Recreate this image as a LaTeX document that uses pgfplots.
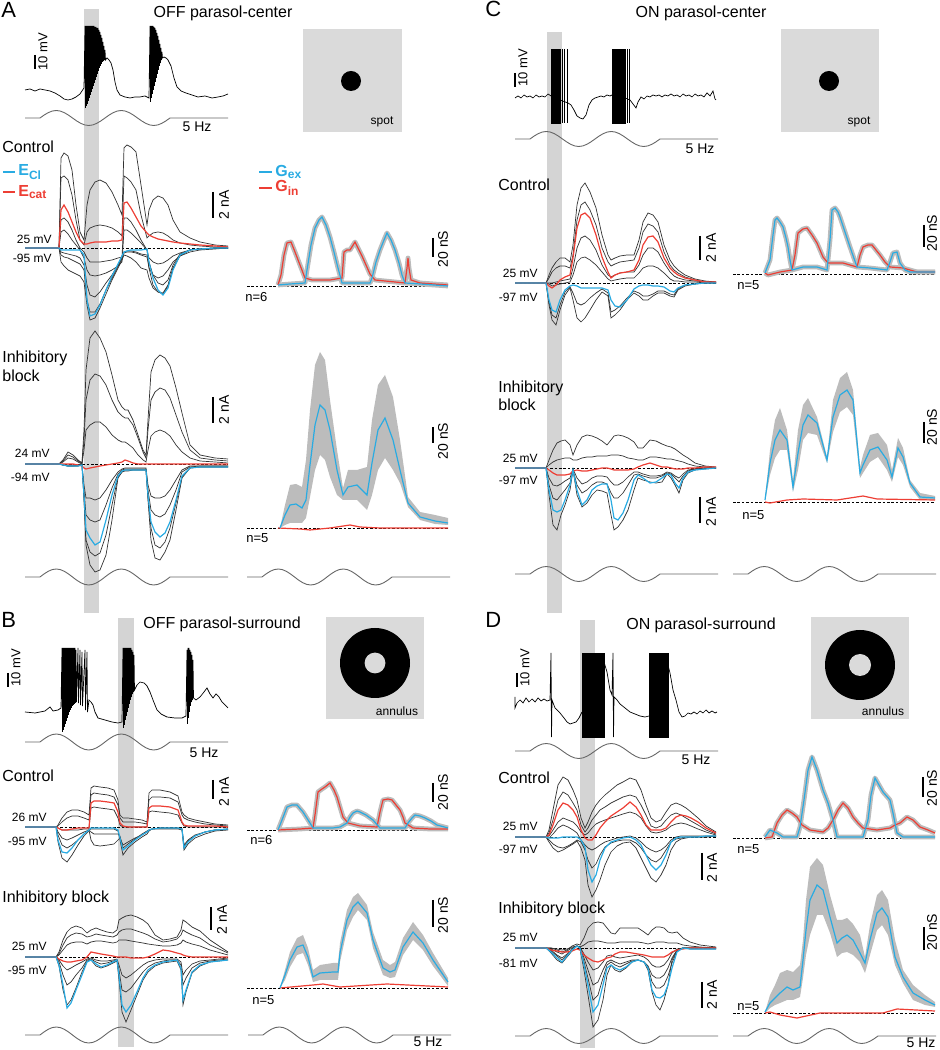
\documentclass[border=0pt]{standalone}
\usepackage{fontspec}
\setmainfont{Liberation Sans}
\usepackage{pgfplots}
\usepackage{pgfplotstable}
\pgfplotsset{compat=1.18}
\usepgfplotslibrary{fillbetween}

\definecolor{cblue}{RGB}{41,171,226}
\definecolor{cred}{RGB}{237,62,52}
\definecolor{barg}{RGB}{212,212,212}
\definecolor{icong}{RGB}{218,218,218}
\definecolor{bandg}{RGB}{188,188,188}

\tikzset{
  tr/.style={black!80, line width=0.35pt},
  rd/.style={cred, line width=0.6pt},
  bl/.style={cblue, line width=0.6pt},
  spk/.style={black, line width=0.35pt},
  stimline/.style={black!60, line width=0.45pt},
  bas/.style={black, line width=0.4pt, dash pattern=on 1.3pt off 0.9pt},
  gthick/.style={bandg, line width=2.4pt, line join=round},
}
% 1 px of the original figure = 0.5 pt; y is counted downwards in px
\newcommand\fs[1]{\fontsize{#1}{#1}\selectfont}

% stimulus: flat, two cycles at 5 Hz, flat (u = px from the trace start)
\pgfplotstableread{
u s
0 0
15 0
19.06 0.383
23.13 0.707
27.19 0.924
31.25 1
35.31 0.924
39.38 0.707
43.44 0.383
47.5 0
51.56 -0.383
55.63 -0.707
59.69 -0.924
63.75 -1
67.81 -0.924
71.88 -0.707
75.94 -0.383
80 0
84.06 0.383
88.13 0.707
92.19 0.924
96.25 1
100.31 0.924
104.38 0.707
108.44 0.383
112.5 0
116.56 -0.383
120.63 -0.707
124.69 -0.924
128.75 -1
132.81 -0.924
136.88 -0.707
140.94 -0.383
145 0
203 0
}\stimtab
\newcommand\stim[3]{\addplot[stimline] table[x expr=\thisrow{u}+#1, y expr=#2-#3*\thisrow{s}]{\stimtab};}

% ---------- A: OFF parasol-center ----------
\pgfplotstableread{
x t1 t2 t3 t4 t5 t6 t7 r b
25 248 248 248 248 248 248 248 248 248
59 248 248 248 248 248 248 248 248 248
61 158 178 220 232 262 255 252 210 250
64 153 176 218 230 266 257 253 205 250
68 156 180 222 234 270 258 254 212 250
72 170 195 230 240 272 260 255 222 250
76 205 220 240 245 274 262 256 232 250
80 232 240 248 250 276 264 258 240 250
84 240 245 252 258 282 270 265 244 255
87 205 232 258 270 305 300 285 244 300
90 190 228 262 275 320 312 295 243 316
95 182 226 262 276 318 312 297 242 314
100 180 225 262 275 308 304 292 242 305
106 183 226 261 273 294 290 283 242 290
112 192 228 260 270 280 278 275 241 276
118 205 232 258 266 268 266 265 241 264
122 215 236 257 262 260 258 258 240 256
124 148 176 218 230 255 253 252 203 252
127 145 178 218 230 256 252 251 202 251
131 147 182 222 233 258 252 251 208 250
136 152 190 230 238 262 253 252 217 250
141 185 215 240 243 268 255 254 226 250
147 225 238 250 250 270 257 255 233 249
149 210 236 258 268 278 268 262 235 262
153 200 233 262 275 288 285 275 237 278
158 196 232 264 278 292 292 283 239 290
163 198 233 263 276 294 293 285 240 295
168 205 236 260 270 286 285 280 241 288
173 220 240 256 262 268 268 265 242 270
180 232 243 253 256 255 256 254 243 255
190 238 245 250 252 250 250 250 244 250
200 242 246 249 250 249 249 249 245 249
215 245 247 248 249 248 248 248 246 248
228 246 247 248 248 248 248 248 247 248
}\Acur
\pgfplotstableread{
x t1 t2 t3 r b t4 t5 t6 t7
25 464 464 464 464 464 464 464 464 464
59 464 464 464 464 464 464 464 464 464
63 460 461 462 464 465 465 465 465 465
68 452 455 458 464 466 466 466 465 466
73 455 457 459 464 466 466 466 465 466
78 460 461 462 465 466 465 466 465 466
82 463 463 464 466 465 464 465 465 465
84 430 440 450 468 495 500 490 485 498
86 370 400 430 469 530 545 515 498 540
90 338 380 425 468 538 565 520 498 552
95 331 374 422 467 545 572 522 500 556
100 338 376 422 466 542 570 520 498 553
106 352 385 427 465 520 555 505 490 535
112 375 400 435 464 495 520 488 480 505
118 400 412 440 463 476 478 474 472 477
122 407 416 442 462 471 472 470 469 472
125 410 418 442 460 470 471 469 468 470
128 410 418 444 461 470 471 469 468 470
133 420 425 448 463 470 470 469 468 470
138 435 438 455 464 470 470 469 468 470
143 450 452 460 464 470 470 469 468 470
146 455 458 462 464 470 470 469 468 470
148 420 430 450 464 495 500 490 485 498
151 372 400 436 464 522 540 510 496 528
155 360 392 432 464 532 558 515 498 545
160 355 388 430 464 537 560 517 498 548
165 358 390 432 464 533 552 514 496 542
170 366 398 436 464 522 540 505 490 528
176 388 415 445 464 500 510 490 480 503
182 413 432 452 464 476 478 472 470 477
190 445 450 458 464 468 468 467 466 468
200 455 458 461 464 467 467 466 466 467
215 458 460 462 464 467 467 466 466 467
228 459 461 463 464 467 467 466 466 467
}\Ainh
\pgfplotstableread{
x y
278 285
290 284
305 283
307 270
311 245
315 228
319 220
322 217
326 225
330 237
334 252
338 268
342 283
370 283
372 278
376 262
380 250
384 240
387 233
391 240
395 250
399 263
402 275
405 283
420 284
448 286
}\Agb
\pgfplotstableread{
x y
278 285
281 275
284 255
287 243
291 242
295 252
300 265
305 278
312 280
330 280
342 278
344 252
347 250
350 250
355 242
358 248
362 256
366 265
370 274
375 280
395 282
405 283
407 268
408 258
409 268
411 280
420 283
448 285
}\Agr
\pgfplotstableread{
x b hi lo
280 528 528 528
285 515 505 525
290 505 485 523
296 504 484 523
302 508 487 523
306 500 460 518
310 465 410 497
315 425 365 470
320 405 352 455
325 410 360 460
330 430 400 477
337 470 450 495
343 495 488 500
348 487 470 500
357 485 470 500
367 495 467 510
372 463 420 495
378 430 385 470
385 418 375 458
393 440 397 470
400 470 440 483
408 503 497 507
420 517 512 520
435 521 515 524
448 523 518 525
}\Aig

% ---------- B: OFF parasol-surround ----------
\pgfplotstableread{
x t1 t2 r t3 b t4 t5 t6
25 827 827 827 827 827 827 827 827
56 827 827 827 827 827 827 827 827
58 825 826 828 828 840 842 832 835
62 818 822 830 830 852 858 838 845
67 812 818 830 830 853 862 840 848
72 810 816 829 830 848 855 838 845
78 810 816 828 830 840 845 835 840
84 812 818 828 829 834 836 832 834
89 815 820 828 829 830 831 830 830
91 788 795 803 808 828 829 840 832
94 786 793 801 807 828 829 845 834
100 787 794 801 808 828 829 846 834
108 788 795 802 809 828 829 845 834
114 790 797 803 810 828 829 844 834
118 800 805 812 818 830 831 840 834
120 818 815 823 825 838 840 838 836
123 822 818 826 827 850 855 845 848
128 822 818 827 827 846 848 842 844
135 822 819 827 827 840 842 838 839
142 823 820 827 827 835 837 835 834
147 824 822 827 827 832 834 832 831
149 793 800 808 812 830 831 830 830
152 790 797 806 811 829 829 829 829
160 790 797 806 812 828 829 828 828
170 792 798 807 813 828 829 828 828
178 796 802 810 815 828 829 828 828
182 812 815 822 823 829 830 829 829
184 815 818 825 826 848 850 845 846
188 818 820 826 827 842 844 840 841
195 820 822 826 827 836 838 835 836
205 822 824 826 827 832 834 832 832
215 824 825 826 827 830 831 830 830
228 825 826 827 827 829 830 829 829
}\Bcur
\pgfplotstableread{
x t1 t2 t3 r b t4 t5 t6
25 957 957 957 957 957 957 957 957
56 957 957 957 957 957 957 957 957
59 952 954 955 959 965 966 962 960
63 940 945 950 961 985 990 975 966
67 932 938 945 962 1008 1005 985 970
71 928 935 943 962 1003 1000 982 968
76 926 933 942 961 990 988 975 965
82 928 934 942 960 975 972 968 962
87 933 937 944 957 962 961 960 959
91 930 936 942 952 960 960 959 958
96 928 934 941 953 964 966 962 960
101 930 935 941 954 967 968 964 961
107 932 936 942 955 965 966 963 961
113 933 937 943 956 962 963 961 960
117 930 935 942 957 960 961 960 959
119 920 932 940 957 975 980 970 965
122 918 930 940 957 1005 1012 990 975
126 916 929 940 957 1012 1022 992 978
131 915 929 941 958 1005 1010 988 975
137 917 931 942 958 992 995 980 970
143 920 933 943 958 978 980 972 965
148 924 935 944 957 970 972 967 962
155 935 939 945 954 965 966 963 960
163 940 942 946 950 962 963 961 959
170 939 941 946 951 961 962 960 959
177 937 939 945 953 960 961 960 959
181 930 935 943 954 968 970 965 962
183 920 930 940 955 1000 1005 985 975
186 922 932 942 956 990 992 978 970
192 927 935 944 957 972 973 968 964
200 931 938 946 957 965 966 963 961
210 940 945 950 957 962 962 961 960
228 952 953 955 957 960 960 959 958
}\Binh
\pgfplotstableread{
x y
278 830
282 820
287 807
292 805
297 805
303 812
310 823
313 828
333 828
340 827
347 823
350 817
353 813
357 811
360 812
366 815
373 820
380 828
405 828
408 823
412 818
415 815
420 816
425 818
431 821
437 825
448 828
}\Bgb
\pgfplotstableread{
x y
278 830
300 829
313 828
315 815
318 792
322 789
325 787
330 783
334 790
337 797
340 807
343 817
348 823
360 826
377 827
380 812
383 800
388 799
392 800
396 805
400 810
403 817
405 823
413 828
430 829
448 829
}\Bgr
\pgfplotstableread{
x b hi lo
280 988 988 988
285 975 970 980
290 960 952 967
297 947 938 955
303 945 935 953
308 957 948 965
313 977 970 982
320 973 965 980
333 972 963 980
338 972 963 980
340 953 943 962
347 920 910 930
353 907 897 917
358 902 893 910
367 913 905 920
373 940 932 948
383 968 960 975
390 972 965 978
395 970 962 977
403 947 938 955
413 932 922 940
423 943 935 950
433 960 953 966
448 982 978 986
}\Big

% ---------- C: ON parasol-center ----------
\pgfplotstableread{
x t1 t2 r t3 t4 b t5 t6
515 283 283 283 283 283 283 283 283
546 283 283 283 283 283 283 283 283
549 275 278 286 283 284 300 305 302
552 268 272 288 283 286 310 320 315
556 262 268 285 282 285 312 325 318
560 258 266 280 281 284 300 310 305
565 258 266 277 280 283 290 295 292
570 262 268 275 279 282 286 288 287
573 245 255 258 268 275 285 300 293
577 205 220 228 248 262 286 318 303
581 188 205 215 238 258 288 322 305
585 183 202 213 236 257 288 318 303
590 192 210 218 240 260 288 310 298
596 208 225 235 250 265 288 300 293
602 235 248 257 265 272 288 292 289
608 255 262 272 275 279 290 296 293
611 260 266 278 277 281 300 318 312
615 258 264 275 275 280 306 315 310
620 256 262 273 273 279 307 310 306
627 255 261 272 272 278 300 300 298
634 255 260 270 272 278 289 293 291
639 240 248 260 265 273 286 296 293
643 222 232 245 255 268 285 300 296
648 213 224 237 248 266 285 300 296
653 215 226 236 248 266 286 296 294
658 222 232 242 252 268 286 293 291
664 245 252 258 263 273 287 293 291
670 260 265 268 272 279 291 296 294
674 266 270 272 276 281 292 297 295
678 270 273 275 278 281 288 290 289
685 275 277 278 280 282 285 286 285
695 279 280 280 281 282 284 284 284
705 281 282 282 282 283 283 283 283
716 282 282 282 283 283 283 283 283
}\Ccur
\pgfplotstableread{
x t1 t2 r b t4 t5 t6
515 468 468 468 468 468 468 468
546 468 468 468 468 468 468 468
549 460 465 470 490 495 485 478
553 450 462 473 510 525 498 485
557 443 460 475 512 530 500 486
561 441 459 475 510 515 495 484
565 440 458 475 500 505 490 481
570 445 458 474 485 490 483 478
573 455 460 471 470 470 470 469
577 445 460 470 490 495 485 478
582 437 458 471 505 507 493 484
587 435 457 471 500 503 490 482
592 436 457 470 490 495 485 478
597 438 456 469 486 490 482 476
602 441 456 468 484 491 482 476
607 445 456 468 484 493 484 477
611 440 455 469 500 515 493 482
614 436 455 470 518 530 498 485
618 435 455 470 520 527 498 485
623 436 456 470 513 520 493 482
628 438 458 470 500 510 485 477
634 442 459 469 480 490 475 472
638 448 460 467 475 478 474 472
643 448 460 465 478 480 476 474
650 440 457 463 483 482 478 476
656 441 457 465 482 483 478 476
662 444 458 467 478 482 476 475
667 446 459 467 474 474 473 472
671 447 459 468 475 478 474 473
675 449 460 469 483 485 478 476
679 452 461 469 488 493 482 478
683 455 462 469 478 480 476 474
688 458 464 468 472 473 471 470
695 463 466 468 470 470 469 469
705 466 467 467 469 469 468 468
716 467 468 467 468 468 468 468
}\Cinh
\pgfplotstableread{
x y
765 273
770 260
773 235
775 220
777 218
780 222
783 227
786 238
788 247
790 260
792 270
803 267
817 267
827 270
830 240
832 210
835 208
838 212
840 217
845 232
850 247
857 267
870 268
887 270
890 262
893 253
897 252
900 263
905 270
910 272
935 272
}\Cgb
\pgfplotstableread{
x y
765 273
768 275
780 272
792 270
795 255
798 233
803 229
807 228
812 235
817 243
823 257
828 263
843 263
857 267
860 255
863 247
868 245
872 245
876 250
880 255
885 262
890 267
903 268
917 272
935 272
}\Cgr
\pgfplotstableread{
x b hi lo
765 500 500 502
770 463 450 475
775 440 420 458
780 430 408 450
787 440 430 450
793 487 480 492
798 453 430 470
803 425 405 440
808 415 398 433
817 423 417 435
827 460 457 463
833 417 400 432
840 395 378 412
847 390 372 407
853 400 390 415
860 473 467 478
863 465 455 473
870 450 435 462
878 447 433 457
887 460 445 470
892 477 470 482
898 448 438 457
903 457 448 465
910 483 480 487
920 497 493 500
935 498 496 500
}\Cig

% ---------- D: ON parasol-surround ----------
\pgfplotstableread{
x t1 t2 r t3 t6 b t4 t5
515 837 837 837 837 837 837 837 837
546 837 837 837 837 837 837 837 837
549 830 833 835 836 838 838 840 842
553 810 820 825 830 834 838 844 848
558 785 800 810 822 828 838 847 852
563 777 792 803 818 825 837 848 850
568 780 795 805 820 827 837 846 847
573 790 803 810 822 830 837 843 844
577 800 810 817 826 833 837 840 841
581 818 825 830 832 840 840 842 848
585 828 832 838 835 845 847 850 860
588 822 828 840 833 848 870 860 885
592 812 820 840 828 850 882 868 897
596 805 815 835 824 848 875 864 890
600 800 810 828 822 845 860 855 880
605 795 807 822 820 842 848 847 865
611 790 803 816 818 840 842 843 852
617 785 800 812 816 838 840 841 846
623 782 797 808 814 837 838 840 843
630 778 795 802 812 836 837 840 842
636 780 797 807 814 838 840 843 848
641 790 805 815 818 842 845 848 858
646 805 815 825 826 847 855 855 868
651 818 826 830 832 850 865 860 878
656 822 828 830 833 852 870 862 882
661 820 826 830 832 850 865 858 875
666 812 820 828 830 846 855 850 865
671 805 815 822 826 840 842 842 850
676 803 813 817 824 837 838 839 842
681 805 815 815 823 836 837 838 839
686 808 818 816 824 836 837 837 838
691 812 821 818 826 836 837 837 837
698 818 825 822 829 836 837 837 837
706 826 830 828 832 836 836 837 837
716 832 834 833 835 836 836 836 836
}\Dcur
\pgfplotstableread{
x t1 t2 r b t3 t4 t5 t6
515 948 948 948 948 948 948 948 948
546 948 948 948 948 948 948 948 948
551 948 948 950 952 950 951 953 949
557 950 949 951 958 955 956 960 952
562 952 950 952 962 958 960 963 954
567 950 949 952 956 954 955 957 951
572 946 947 951 950 949 950 951 948
577 944 946 949 946 946 946 946 946
580 945 947 950 948 947 948 949 947
584 938 945 955 965 958 962 970 954
588 928 942 958 985 970 978 995 962
593 923 941 961 1012 985 1000 1027 970
598 922 941 962 1005 982 995 1020 968
603 923 942 960 985 970 978 1000 962
607 928 943 958 968 962 965 975 956
611 933 943 957 965 960 962 965 955
615 934 943 954 968 962 965 970 957
620 928 942 952 970 964 967 972 958
626 928 942 952 967 962 964 968 957
632 928 942 953 962 960 961 962 956
638 928 942 954 960 960 960 960 955
644 932 943 955 962 962 962 962 957
648 935 944 956 968 966 967 970 960
652 930 943 957 990 975 982 992 965
656 927 942 957 997 978 988 1005 967
660 927 942 957 998 978 988 1010 967
664 928 942 957 995 975 985 1000 965
668 932 943 955 985 968 976 985 960
672 933 943 952 968 958 963 960 953
677 932 943 950 952 950 951 950 949
683 938 945 949 948 948 948 948 948
690 942 946 948 949 948 948 949 948
700 945 947 948 949 948 948 949 948
716 947 948 948 949 948 948 949 948
}\Dinh
\pgfplotstableread{
x y
765 837
770 830
777 833
783 837
797 837
800 827
804 800
808 770
812 757
817 770
823 790
828 803
833 820
837 837
863 837
868 820
871 795
875 778
879 785
883 792
890 800
893 813
897 833
903 837
935 837
}\Dgb
\pgfplotstableread{
x y
765 838
772 837
777 823
782 815
787 810
792 813
797 817
802 825
810 830
823 832
828 828
833 820
838 810
843 803
848 808
853 817
858 823
863 828
877 830
890 828
895 825
900 823
907 817
913 820
920 827
928 830
935 833
}\Dgr
\pgfplotstableread{
x b hi lo
765 1012 1012 1013
770 1003 995 1008
775 998 985 1005
780 993 973 1003
787 987 970 1000
793 990 972 1000
800 987 965 997
803 960 940 978
806 930 900 955
810 900 867 935
817 885 858 915
823 890 865 915
830 917 895 933
837 943 920 957
842 938 920 953
847 935 918 952
853 940 924 955
860 953 935 962
865 963 957 973
870 940 925 955
877 913 895 930
882 908 890 925
888 917 900 935
895 957 940 965
903 977 970 983
913 993 985 1000
925 1000 995 1005
935 1005 1002 1007
}\Dig

% helpers
\newcommand\sbar[6]{\draw[line width=0.55pt] (#1,#2) -- (#1,#3);
  \node[rotate=90, font=\fs{7}, inner sep=0] at (#4,#5) {#6};}
\newcommand\mvl[3]{\node[anchor=east, font=\fs{6}, inner sep=0] at (#1,#2) {#3};}
\newcommand\lab[3]{\node[anchor=base west, font=\fs{8}, inner sep=0] at (#1,#2) {#3};}
\newcommand\nlab[3]{\node[anchor=west, font=\fs{6.5}, inner sep=0] at (#1,#2) {#3};}
\newcommand\hz[2]{\node[font=\fs{7}, inner sep=0] at (#1,#2) {5 Hz};}

\begin{document}
\begin{tikzpicture}
\begin{axis}[width=469.5pt, height=525pt, scale only axis,
  xmin=0, xmax=939, ymin=0, ymax=1050, y dir=reverse,
  hide axis, clip=false]
\path (0,0) rectangle (939,1050);

% gray time bars
\fill[barg] (84,9) rectangle (99,613);
\fill[barg] (547,32) rectangle (562,613);
\fill[barg] (118,618) rectangle (134,1047);
\fill[barg] (580,620) rectangle (595,1048);

% panel letters and titles
\node[anchor=base west, font=\fs{11}, inner sep=0] at (1,18) {A};
\node[anchor=base west, font=\fs{11}, inner sep=0] at (1,628) {B};
\node[anchor=base west, font=\fs{11}, inner sep=0] at (485,17) {C};
\node[anchor=base west, font=\fs{11}, inner sep=0] at (485,628) {D};
\node[anchor=base, font=\fs{8}, inner sep=0] at (223,18) {OFF parasol-center};
\node[anchor=base, font=\fs{8}, inner sep=0] at (222,629) {OFF parasol-surround};
\node[anchor=base, font=\fs{8}, inner sep=0] at (701,18) {ON parasol-center};
\node[anchor=base, font=\fs{8}, inner sep=0] at (701,630) {ON parasol-surround};

% stimulus icons
\fill[icong] (303,29) rectangle (402,132);
\fill[black] (351,81) circle[radius=5pt];
\node[font=\fs{6}, inner sep=0] at (382,122) {spot};
\fill[icong] (781,29) rectangle (879,132);
\fill[black] (829,81) circle[radius=5pt];
\node[font=\fs{6}, inner sep=0] at (859,122) {spot};
\fill[icong] (326,617) rectangle (424,719);
\fill[black] (375,663) circle[radius=17.5pt];
\fill[icong] (375,663) circle[radius=5.2pt];
\node[font=\fs{6}, inner sep=0] at (397,711) {annulus};
\fill[icong] (811,617) rectangle (909,719);
\fill[black] (860,665) circle[radius=17.5pt];
\fill[icong] (860,665) circle[radius=5.5pt];
\node[font=\fs{6}, inner sep=0] at (883,711) {annulus};

% ===== A =====
\addplot[spk] coordinates {(25,90)(30,89)(35,91)(40,89)(45,90)(50,91)(55,93)(60,96)(64,99)(68,100)(72,99)(76,97)(80,94)(84,88)
(85,26)(85.5,108)(86,26)(86.5,106)(87,26)(87.5,104)(88,26)(88.5,101)(89,26)(89.5,98)(90,26)(90.5,95)(91,26)(91.5,92)(92,26)(92.5,89)(93,26)(93.5,86)(94,26)(94.5,83)(95,27)(95.5,80)(96,27)(96.5,77)(97,28)(97.5,74)(98,28)(98.5,71)(99,30)(99.5,68)(100,32)(100.5,66)(101,35)(101.5,64)(102,38)(102.5,62)(103,42)(103.5,61)(104,46)(104.5,60)(105,50)(105.5,60)
(107,58)(109,60)(111,63)(113,70)(115,82)(117,90)(120,95)(125,97)(130,98)(135,97)(140,97)(145,96)(149,98)
(150,26)(150.5,102)(151,26)(151.5,98)(152,26)(152.5,94)(153,26)(153.5,90)(154,27)(154.5,86)(155,28)(155.5,82)(156,30)(156.5,78)(157,33)(157.5,74)(158,36)(158.5,70)(159,40)(159.5,66)(160,44)(160.5,63)(161,48)(161.5,60)(162,52)(162.5,58)
(164,57)(166,58)(168,60)(171,66)(174,78)(177,87)(181,91)(186,93)(192,95)(198,97)(205,96)(212,98)(218,97)(223,96)(228,94)};
\draw[line width=0.55pt] (35,55) -- (35,69);
\node[rotate=90, font=\fs{6.5}, inner sep=0] at (43,52) {10 mV};
\stim{25}{118}{7.5}
\hz{197}{127}

\lab{2}{153}{Control}
\addplot[bl] coordinates {(3,172)(15,172)};
\node[anchor=west, font=\fs{8}\bfseries, text=cblue, inner sep=0] at (18,172) {E\textsubscript{Cl}};
\addplot[rd] coordinates {(3,192)(15,192)};
\node[anchor=west, font=\fs{8}\bfseries, text=cred, inner sep=0] at (18,192) {E\textsubscript{cat}};
\addplot[bl] coordinates {(259,172)(272,172)};
\node[anchor=west, font=\fs{8}\bfseries, text=cblue, inner sep=0] at (275,172) {G\textsubscript{ex}};
\addplot[rd] coordinates {(259,188)(272,188)};
\node[anchor=west, font=\fs{8}\bfseries, text=cred, inner sep=0] at (275,188) {G\textsubscript{in}};

\draw[bas] (25,248) -- (228,248);
\pgfplotsinvokeforeach{t1,t2,t3,t4,t5,t6,t7}{\addplot[tr] table[x=x,y=#1]{\Acur};}
\addplot[rd] table[x=x,y=r]{\Acur};
\addplot[bl] table[x=x,y=b]{\Acur};
\mvl{52}{239}{25 mV}
\mvl{52}{258}{-95 mV}
\sbar{213}{192}{218}{224}{205}{2 nA}

\draw[bas] (247,286) -- (448,286);
\addplot[gthick] table[x=x,y=y]{\Agr};
\addplot[gthick] table[x=x,y=y]{\Agb};
\addplot[rd] table[x=x,y=y]{\Agr};
\addplot[bl] table[x=x,y=y]{\Agb};
\nlab{245}{297}{n=6}
\sbar{433}{238}{257}{443}{249}{20 nS}

\lab{2}{363}{Inhibitory}
\lab{2}{382}{block}
\draw[bas] (25,464) -- (228,464);
\pgfplotsinvokeforeach{t1,t2,t3,t4,t5,t6,t7}{\addplot[tr] table[x=x,y=#1]{\Ainh};}
\addplot[rd] table[x=x,y=r]{\Ainh};
\addplot[bl] table[x=x,y=b]{\Ainh};
\mvl{50}{453}{24 mV}
\mvl{50}{477}{-94 mV}
\sbar{213}{397}{423}{224}{410}{2 nA}

\draw[bas] (247,528) -- (448,528);
\addplot[name path=ahi, draw=none] table[x=x,y=hi]{\Aig};
\addplot[name path=alo, draw=none] table[x=x,y=lo]{\Aig};
\addplot[bandg] fill between[of=ahi and alo];
\addplot[rd] coordinates {(278,528)(300,529)(310,530)(330,528)(350,525)(360,527)(380,528)(448,528)};
\addplot[bl] table[x=x,y=b]{\Aig};
\nlab{246}{538}{n=5}
\sbar{433}{427}{443}{443}{441}{20 nS}
\stim{25}{577}{8}
\stim{247}{577}{8}

% ===== B =====
\addplot[spk] coordinates {(25,712)(35,713)(45,711)(50,707)(53,711)(58,710)(61,708)
(62,648)(62.5,732)(63,648)(63.5,730)(64,648)(64.5,727)(65,648)(65.5,724)(66,648)(66.5,721)(67,648)(67.5,718)(68,648)(68.5,715)(69,648)(69.5,712)(70,648)(70.5,710)(71,648)(71.5,708)(72,648)(72.5,706)(73,648)(73.5,705)(74,648)(74.5,704)(75,648)(75.5,703)(76,650)(76.5,702)(78,648)(78.5,703)(80,650)(80.5,705)(82,652)(82.5,706)(85,650)(85.5,710)(87,652)(87.5,712)
(89,700)(91,702)(93,705)(95,712)(98,718)(105,720)(112,722)(118,723)(122,722)
(123,648)(123.5,728)(124,648)(124.5,725)(125,648)(125.5,720)(126,648)(126.5,716)(127,648)(127.5,712)(128,648)(128.5,708)(129,648)(129.5,704)(130,648)(130.5,700)(131,648)(131.5,697)(132,650)(132.5,694)(133,652)(133.5,692)(134,655)(134.5,690)
(137,685)(140,682)(144,683)(147,686)(150,692)(153,700)(157,710)(161,714)(167,717)(175,718)(182,718)(186,716)
(187,650)(187.5,724)(188,648)(188.5,718)(189,648)(189.5,712)(190,650)(190.5,706)(191,652)(191.5,702)(192,655)(192.5,700)(193,660)(193.5,698)
(196,700)(200,697)(204,692)(207,688)(210,694)(213,698)(216,694)(219,697)(222,702)(225,705)(228,708)};
\draw[line width=0.55pt] (8,673) -- (8,687);
\node[rotate=90, font=\fs{6.5}, inner sep=0] at (16,668) {10 mV};
\stim{25}{742}{8}
\hz{204}{753}

\lab{2}{782}{Control}
\draw[bas] (25,827) -- (228,827);
\pgfplotsinvokeforeach{t1,t2,t3,t4,t5,t6}{\addplot[tr] table[x=x,y=#1]{\Bcur};}
\addplot[rd] table[x=x,y=r]{\Bcur};
\addplot[bl] table[x=x,y=b]{\Bcur};
\mvl{47}{817}{26 mV}
\mvl{47}{841}{-95 mV}
\sbar{213}{780}{799}{224}{792}{2 nA}

\draw[bas] (247,830) -- (448,830);
\addplot[gthick] table[x=x,y=y]{\Bgr};
\addplot[gthick] table[x=x,y=y]{\Bgb};
\addplot[rd] table[x=x,y=y]{\Bgr};
\addplot[bl] table[x=x,y=y]{\Bgb};
\nlab{250}{840}{n=6}
\sbar{433}{783}{802}{443}{792}{20 nS}

\lab{2}{903}{Inhibitory block}
\draw[bas] (25,957) -- (228,957);
\pgfplotsinvokeforeach{t1,t2,t3,t4,t5,t6}{\addplot[tr] table[x=x,y=#1]{\Binh};}
\addplot[rd] table[x=x,y=r]{\Binh};
\addplot[bl] table[x=x,y=b]{\Binh};
\mvl{47}{946}{25 mV}
\mvl{47}{970}{-95 mV}
\sbar{211}{907}{930}{222}{920}{2 nA}

\draw[bas] (247,988) -- (448,988);
\addplot[name path=bhi, draw=none] table[x=x,y=hi]{\Big};
\addplot[name path=blo, draw=none] table[x=x,y=lo]{\Big};
\addplot[bandg] fill between[of=bhi and blo];
\addplot[rd] coordinates {(280,988)(313,985)(323,984)(340,987)(387,984)(448,987)};
\addplot[bl] table[x=x,y=b]{\Big};
\nlab{252}{1000}{n=5}
\sbar{433}{900}{927}{443}{915}{20 nS}
\stim{25}{1035}{8}
\stim{248}{1035}{8}
\hz{428}{1042}

% ===== C =====
\addplot[spk] coordinates {(515,98)(518,96)(521,98)(524,95)(527,97)(530,96)(533,98)(536,95)(539,97)(542,96)(545,97)(548,94)(551,96)};
\addplot[fill=black, draw=black, line width=0.3pt] coordinates {(551,49)(560,49)(560,123)(551,123)} -- cycle;
\addplot[spk] coordinates {(562,49)(562,123)};
\addplot[spk] coordinates {(564,49)(564,123)};
\addplot[spk] coordinates {(567,49)(567,123)};
\addplot[spk] coordinates {(560,100)(568,103)(571,105)(574,110)(577,116)(580,118)(583,119)(586,115)(589,105)(592,100)(595,98)(598,97)(601,96)(604,97)(607,95)(610,96)(612,95)};
\addplot[fill=black, draw=black, line width=0.3pt] coordinates {(612,49)(625,49)(625,123)(612,123)} -- cycle;
\addplot[spk] coordinates {(627,49)(627,123)};
\addplot[spk] coordinates {(629,49)(629,123)};
\addplot[spk] coordinates {(625,98)(630,100)(633,104)(636,108)(638,102)(641,97)(644,99)(647,96)(650,97)(653,95)(656,96)(659,95)(662,97)(665,95)(668,96)(671,94)(674,96)(677,95)(680,97)(683,94)(686,96)(689,95)(692,97)(695,94)(698,96)(701,95)(704,97)(707,93)(710,96)(713,91)(715,99)(716,100)};
\draw[line width=0.55pt] (515,73) -- (515,87);
\node[rotate=90, font=\fs{6.5}, inner sep=0] at (523,68) {10 mV};
\stim{515}{139}{7.5}
\hz{700}{149}

\lab{498}{191}{Control}
\draw[bas] (515,283) -- (716,283);
\pgfplotsinvokeforeach{t1,t2,t3,t4,t5,t6}{\addplot[tr] table[x=x,y=#1]{\Ccur};}
\addplot[rd] table[x=x,y=r]{\Ccur};
\addplot[bl] table[x=x,y=b]{\Ccur};
\mvl{538}{273}{25 mV}
\mvl{538}{297}{-97 mV}
\sbar{700}{236}{260}{711}{248}{2 nA}

\draw[bas] (733,274) -- (935,274);
\addplot[gthick] table[x=x,y=y]{\Cgr};
\addplot[gthick] table[x=x,y=y]{\Cgb};
\addplot[rd] table[x=x,y=y]{\Cgr};
\addplot[bl] table[x=x,y=y]{\Cgb};
\nlab{737}{285}{n=5}
\sbar{924}{225}{247}{932}{233}{20 nS}

\lab{498}{393}{Inhibitory}
\lab{498}{411}{block}
\draw[bas] (515,468) -- (716,468);
\pgfplotsinvokeforeach{t1,t2,t4,t5,t6}{\addplot[tr] table[x=x,y=#1]{\Cinh};}
\addplot[rd] table[x=x,y=r]{\Cinh};
\addplot[bl] table[x=x,y=b]{\Cinh};
\mvl{538}{458}{25 mV}
\mvl{538}{480}{-97 mV}
\sbar{700}{497}{523}{711}{512}{2 nA}

\draw[bas] (733,502) -- (935,502);
\addplot[name path=chi, draw=none] table[x=x,y=hi]{\Cig};
\addplot[name path=clo, draw=none] table[x=x,y=lo]{\Cig};
\addplot[bandg] fill between[of=chi and clo];
\addplot[rd] coordinates {(765,502)(770,503)(787,500)(803,499)(837,500)(863,496)(877,499)(935,500)};
\addplot[bl] table[x=x,y=b]{\Cig};
\nlab{742}{515}{n=5}
\sbar{924}{422}{443}{932}{427}{20 nS}
\stim{515}{574}{7.5}
\stim{733}{574}{7.5}

% ===== D =====
\addplot[spk] coordinates {(515,697)(515,708)(517,703)(520,700)(523,703)(526,698)(529,702)(532,699)(535,702)(538,698)(541,701)(544,699)(547,701)(550,700)(551,653)(551.5,737)(552,700)
(555,708)(560,713)(564,718)(567,722)(570,724)(573,723)(576,722)(579,718)(582,712)};
\addplot[fill=black, draw=black, line width=0.3pt] coordinates {(582,653)(604,653)(604,737)(582,737)} -- cycle;
\addplot[spk] coordinates {(604,662)(607,672)(610,690)(612,695)(613,653)(613.5,737)(614,697)(617,700)(620,704)(625,708)(630,712)(635,714)(640,716)(645,717)(649,716)};
\addplot[fill=black, draw=black, line width=0.3pt] coordinates {(649,653)(668,653)(668,737)(649,737)} -- cycle;
\addplot[spk] coordinates {(668,665)(670,673)(673,690)(676,700)(679,712)(682,717)(685,716)(688,713)(691,714)(694,712)(697,714)(700,711)(703,713)(706,710)(709,713)(712,711)(715,713)(717,712)};
\draw[line width=0.55pt] (517,673) -- (517,687);
\node[rotate=90, font=\fs{6.5}, inner sep=0] at (525,668) {10 mV};
\stim{515}{751}{7.5}
\hz{696}{760}

\lab{498}{784}{Control}
\draw[bas] (515,837) -- (716,837);
\pgfplotsinvokeforeach{t1,t2,t3,t6,t4,t5}{\addplot[tr] table[x=x,y=#1]{\Dcur};}
\addplot[rd] table[x=x,y=r]{\Dcur};
\addplot[bl] table[x=x,y=b]{\Dcur};
\mvl{538}{826}{25 mV}
\mvl{538}{849}{-97 mV}
\sbar{702}{853}{880}{712}{868}{2 nA}

\draw[bas] (733,838) -- (935,838);
\addplot[gthick] table[x=x,y=y]{\Dgr};
\addplot[gthick] table[x=x,y=y]{\Dgb};
\addplot[rd] table[x=x,y=y]{\Dgr};
\addplot[bl] table[x=x,y=y]{\Dgb};
\nlab{737}{849}{n=5}
\sbar{923}{777}{797}{932}{788}{20 nS}

\lab{498}{914}{Inhibitory block}
\draw[bas] (515,948) -- (716,948);
\pgfplotsinvokeforeach{t1,t2,t3,t4,t5,t6}{\addplot[tr] table[x=x,y=#1]{\Dinh};}
\addplot[rd] table[x=x,y=r]{\Dinh};
\addplot[bl] table[x=x,y=b]{\Dinh};
\mvl{538}{937}{25 mV}
\mvl{538}{963}{-81 mV}
\sbar{702}{982}{1008}{712}{995}{2 nA}

\draw[bas] (733,1013) -- (935,1013);
\addplot[name path=dhi, draw=none] table[x=x,y=hi]{\Dig};
\addplot[name path=dlo, draw=none] table[x=x,y=lo]{\Dig};
\addplot[bandg] fill between[of=dhi and dlo];
\addplot[rd] coordinates {(765,1013)(770,1012)(780,1015)(797,1018)(820,1013)(853,1013)(883,1013)(897,1009)(935,1011)};
\addplot[bl] table[x=x,y=b]{\Dig};
\nlab{737}{1006}{n=5}
\sbar{924}{927}{950}{932}{932}{20 nS}
\stim{515}{1036}{7.5}
\stim{733}{1036}{7.5}
\hz{921}{1043}
\end{axis}
\end{tikzpicture}
\end{document}
